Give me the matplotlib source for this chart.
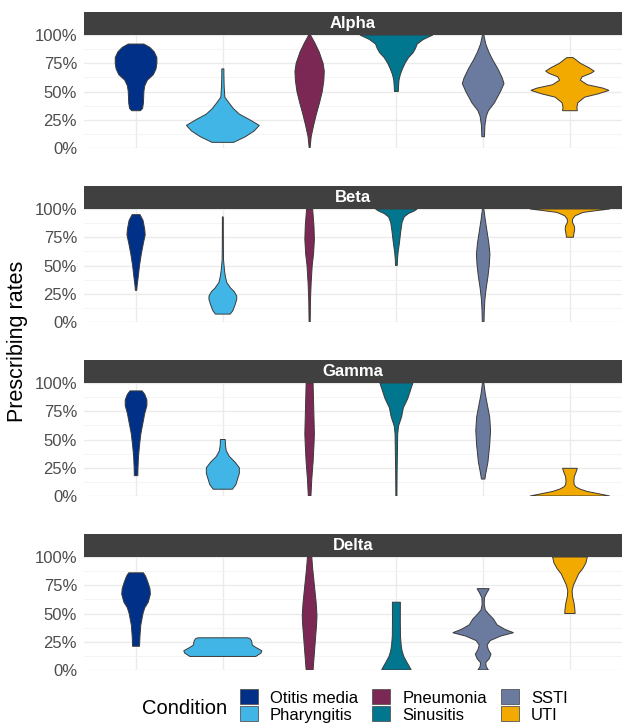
import matplotlib.pyplot as plt
import numpy as np
from matplotlib.patches import Patch

plt.rcParams["font.family"] = ["Liberation Sans", "DejaVu Sans"]

conditions = ["Otitis media", "Pharyngitis", "Pneumonia", "Sinusitis", "SSTI", "UTI"]
colours = ["#003087", "#41B6E6", "#7C2855", "#00768F", "#6B7BA0", "#F2A900"]
panels = ["Alpha", "Beta", "Gamma", "Delta"]
rate_ticks = [0, 0.25, 0.5, 0.75, 1.0]
rate_labels = ["0%", "25%", "50%", "75%", "100%"]

# violin outlines:
# (prescribing rate, half width in category units), from bottom to top
alpha_profiles = [
    [(0.33, 0.05), (0.35, 0.075), (0.40, 0.085), (0.50, 0.09), (0.55, 0.10), (0.60, 0.13),
     (0.65, 0.20), (0.70, 0.23), (0.75, 0.24), (0.80, 0.24), (0.85, 0.21), (0.89, 0.16), (0.92, 0.09)],
    [(0.05, 0.125), (0.10, 0.26), (0.15, 0.36), (0.20, 0.42), (0.25, 0.31), (0.30, 0.19),
     (0.35, 0.12), (0.40, 0.07), (0.45, 0.023), (0.55, 0.015), (0.65, 0.012), (0.70, 0.012)],
    [(0.00, 0.005), (0.10, 0.018), (0.20, 0.046), (0.30, 0.078), (0.40, 0.114), (0.50, 0.146),
     (0.60, 0.164), (0.68, 0.169), (0.75, 0.155), (0.85, 0.11), (0.93, 0.06), (1.00, 0.01)],
    [(0.50, 0.022), (0.55, 0.025), (0.60, 0.03), (0.65, 0.045), (0.70, 0.07), (0.75, 0.10),
     (0.80, 0.14), (0.84, 0.19), (0.88, 0.22), (0.92, 0.24), (0.96, 0.31), (1.00, 0.42)],
    [(0.10, 0.015), (0.20, 0.02), (0.28, 0.035), (0.33, 0.06), (0.40, 0.13), (0.50, 0.20),
     (0.57, 0.24), (0.62, 0.22), (0.70, 0.17), (0.78, 0.11), (0.85, 0.065), (0.92, 0.03), (1.00, 0.008)],
    [(0.33, 0.085), (0.36, 0.08), (0.40, 0.09), (0.45, 0.17), (0.48, 0.33), (0.51, 0.45),
     (0.53, 0.38), (0.56, 0.20), (0.60, 0.12), (0.63, 0.14), (0.66, 0.24), (0.68, 0.28),
     (0.71, 0.22), (0.75, 0.12), (0.78, 0.07), (0.80, 0.035)],
]

beta_profiles = [
    [(0.28, 0.008), (0.32, 0.012), (0.40, 0.025), (0.50, 0.04), (0.60, 0.06), (0.70, 0.085),
     (0.77, 0.105), (0.82, 0.10), (0.90, 0.08), (0.95, 0.045)],
    [(0.07, 0.085), (0.10, 0.115), (0.15, 0.14), (0.20, 0.16), (0.23, 0.16), (0.27, 0.13),
     (0.30, 0.09), (0.35, 0.045), (0.40, 0.03), (0.45, 0.02), (0.55, 0.008), (0.70, 0.006), (0.93, 0.005)],
    [(0.00, 0.006), (0.20, 0.01), (0.35, 0.018), (0.50, 0.03), (0.60, 0.045), (0.73, 0.055),
     (0.85, 0.05), (0.95, 0.04), (1.00, 0.035)],
    [(0.50, 0.01), (0.55, 0.012), (0.62, 0.02), (0.70, 0.035), (0.80, 0.05), (0.88, 0.065),
     (0.93, 0.09), (0.96, 0.14), (0.98, 0.20), (1.00, 0.24)],
    [(0.00, 0.01), (0.10, 0.013), (0.20, 0.02), (0.30, 0.035), (0.40, 0.055), (0.50, 0.07),
     (0.60, 0.078), (0.70, 0.065), (0.80, 0.045), (0.90, 0.025), (1.00, 0.008)],
    [(0.75, 0.04), (0.78, 0.045), (0.82, 0.055), (0.85, 0.05), (0.88, 0.03), (0.91, 0.03),
     (0.94, 0.06), (0.97, 0.15), (0.99, 0.35), (1.00, 0.46)],
]

gamma_profiles = [
    [(0.18, 0.02), (0.25, 0.022), (0.35, 0.028), (0.45, 0.04), (0.55, 0.055), (0.65, 0.08),
     (0.73, 0.10), (0.80, 0.125), (0.85, 0.125), (0.90, 0.10), (0.93, 0.07)],
    [(0.06, 0.11), (0.10, 0.15), (0.15, 0.17), (0.20, 0.19), (0.25, 0.19), (0.30, 0.14),
     (0.35, 0.075), (0.40, 0.04), (0.45, 0.03), (0.50, 0.028)],
    [(0.00, 0.015), (0.15, 0.025), (0.30, 0.04), (0.45, 0.05), (0.55, 0.055), (0.70, 0.05),
     (0.85, 0.045), (1.00, 0.04)],
    [(0.00, 0.006), (0.20, 0.008), (0.40, 0.012), (0.55, 0.015), (0.62, 0.025), (0.70, 0.06),
     (0.78, 0.08), (0.86, 0.13), (0.93, 0.16), (1.00, 0.19)],
    [(0.15, 0.02), (0.20, 0.03), (0.30, 0.055), (0.45, 0.075), (0.58, 0.085), (0.70, 0.075),
     (0.80, 0.05), (0.90, 0.025), (1.00, 0.008)],
    [(0.00, 0.46), (0.02, 0.33), (0.04, 0.20), (0.06, 0.12), (0.08, 0.07), (0.10, 0.05),
     (0.13, 0.045), (0.17, 0.05), (0.21, 0.07), (0.245, 0.085)],
]

delta_profiles = [
    [(0.21, 0.04), (0.30, 0.045), (0.40, 0.055), (0.50, 0.08), (0.55, 0.10), (0.60, 0.14),
     (0.67, 0.165), (0.72, 0.16), (0.78, 0.135), (0.83, 0.11), (0.86, 0.085)],
    [(0.12, 0.38), (0.13, 0.40), (0.15, 0.44), (0.17, 0.45), (0.20, 0.38), (0.22, 0.34),
     (0.26, 0.33), (0.28, 0.31), (0.285, 0.28)],
    [(0.00, 0.04), (0.10, 0.05), (0.25, 0.065), (0.40, 0.08), (0.48, 0.085), (0.60, 0.075),
     (0.75, 0.055), (0.90, 0.035), (1.00, 0.025)],
    [(0.00, 0.17), (0.03, 0.15), (0.07, 0.12), (0.12, 0.085), (0.17, 0.065), (0.22, 0.055),
     (0.30, 0.047), (0.45, 0.045), (0.60, 0.046)],
    [(0.00, 0.06), (0.03, 0.035), (0.065, 0.03), (0.10, 0.07), (0.14, 0.09), (0.18, 0.06),
     (0.22, 0.045), (0.26, 0.08), (0.30, 0.20), (0.33, 0.35), (0.36, 0.25), (0.40, 0.16),
     (0.45, 0.12), (0.49, 0.07), (0.53, 0.025), (0.58, 0.012), (0.64, 0.015), (0.68, 0.04), (0.72, 0.07)],
    [(0.50, 0.06), (0.55, 0.055), (0.60, 0.045), (0.65, 0.03), (0.70, 0.025), (0.75, 0.04),
     (0.80, 0.07), (0.85, 0.10), (0.90, 0.15), (0.95, 0.185), (1.00, 0.20)],
]

panel_profiles = [alpha_profiles, beta_profiles, gamma_profiles, delta_profiles]

W, H = 622, 726


def px_rect(left, top, width, height):
    return [left / W, 1 - (top + height) / H, width / W, height / H]


def draw_violin(ax, pos, profile, colour):
    rate = np.array([p[0] for p in profile])
    half = np.array([p[1] for p in profile])
    xs = np.concatenate([pos + half, (pos - half)[::-1]])
    ys = np.concatenate([rate, rate[::-1]])
    ax.fill(xs, ys, facecolor=colour, edgecolor="#3a3a3a", linewidth=0.7, zorder=3)


fig = plt.figure(figsize=(W / 100, H / 100), dpi=100)
panel_tops = [35, 209, 383, 557]
positions = np.arange(1, len(conditions) + 1)

for name, profiles, top in zip(panels, panel_profiles, panel_tops):
    ax = fig.add_axes(px_rect(84, top, 538, 113))
    for pos, profile, colour in zip(positions, profiles, colours):
        draw_violin(ax, pos, profile, colour)
    ax.set_xlim(0.4, 6.6)
    ax.set_ylim(0, 1)
    ax.set_xticks(positions)
    ax.set_xticklabels([])
    ax.set_yticks(rate_ticks)
    ax.set_yticklabels(rate_labels)
    ax.set_yticks([0.125, 0.375, 0.625, 0.875], minor=True)
    ax.grid(which="major", color="#EBEBEB", linewidth=1.0)
    ax.grid(which="minor", axis="y", color="#F2F2F2", linewidth=0.6)
    ax.set_axisbelow(True)
    ax.tick_params(which="both", length=0, pad=5, labelsize=12, labelcolor="#4D4D4D")
    for spine in ax.spines.values():
        spine.set_visible(False)

    strip = fig.add_axes(px_rect(84, top - 23, 538, 23))
    strip.set_facecolor("#404040")
    strip.set_xticks([])
    strip.set_yticks([])
    for spine in strip.spines.values():
        spine.set_visible(False)
    strip.text(0.5, 0.5, name, transform=strip.transAxes, ha="center", va="center",
               color="white", fontsize=12, fontweight="bold")

fig.text(18 / W, 1 - 341 / H, "Prescribing rates", rotation=90, ha="center", va="center",
         fontsize=15.5)

handles = [Patch(facecolor=c, edgecolor="#555555", linewidth=0.6, label=n)
           for n, c in zip(conditions, colours)]
fig.legend(handles=handles, ncol=3, loc="center left", bbox_to_anchor=(240 / W, 1 - 706 / H),
           frameon=False, fontsize=12, handlelength=1.05, handleheight=1.0, handletextpad=0.75,
           columnspacing=0.85, labelspacing=0.05, borderpad=0, borderaxespad=0)
fig.text(142 / W, 1 - 708 / H, "Condition", ha="left", va="center", fontsize=14.5)

fig.savefig("out.png", dpi=100)
